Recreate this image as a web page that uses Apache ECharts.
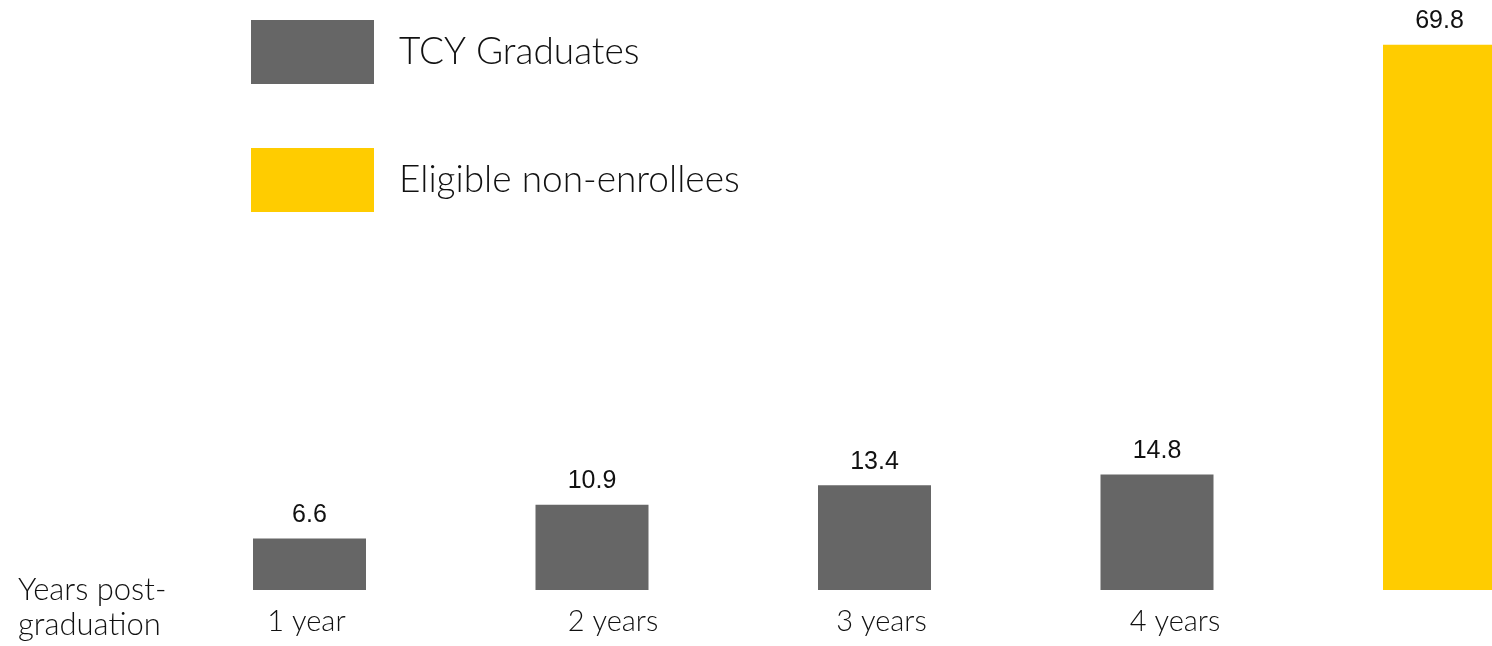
<!DOCTYPE html>
<html>
<head>
<meta charset="utf-8">
<script src="https://cdn.jsdelivr.net/npm/echarts@6/dist/echarts.min.js"></script>
<style>
html,body{margin:0;padding:0;background:#fff;}
#chart{width:1492px;height:646px;}
</style>
</head>
<body>
<div id="chart"></div>
<script>
const categories = ['1 year', '2 years', '3 years', '4 years', ''];
const seriesNames = ['TCY Graduates', 'Eligible non-enrollees'];
const tcyValues = [6.6, 10.9, 13.4, 14.8, '-'];
const eligibleValues = ['-', '-', '-', '-', 69.8];
const labelShifts = [-3, 21, 7, 18, 0];
const axisTitle = 'Years post-\ngraduation';

const FONT = 'Lato, "Open Sans", "Noto Sans", sans-serif';
const chart = echarts.init(document.getElementById('chart'));

const catData = categories.map((c, i) => {
  const s = labelShifts[i];
  return {
    value: c,
    textStyle: { padding: s >= 0 ? [0, 0, 0, 2 * s] : [0, -2 * s, 0, 0] }
  };
});

chart.setOption({
  animation: false,
  backgroundColor: '#ffffff',
  legend: {
    orient: 'vertical',
    left: 246,
    top: 15,
    itemWidth: 123,
    itemHeight: 64,
    itemGap: 64,
    icon: 'rect',
    data: seriesNames,
    textStyle: { fontFamily: FONT, fontSize: 37, fontWeight: 300, color: '#111', padding: [0, 0, 0, 20] }
  },
  grid: { left: 168.25, right: -88.75, top: 43.3, bottom: 56, outerBoundsMode: 'none', containLabel: false },
  xAxis: {
    type: 'category',
    data: catData,
    axisLine: { show: false },
    axisTick: { show: false },
    axisLabel: { margin: 17, fontFamily: FONT, fontSize: 29, fontWeight: 300, color: '#111', interval: 0 }
  },
  yAxis: {
    type: 'value',
    min: 0,
    max: 70,
    show: false,
    splitLine: { show: false }
  },
  graphic: [{
    type: 'text',
    left: 18,
    top: 572,
    style: { text: axisTitle, font: '300 31px ' + FONT, fill: '#111', lineHeight: 35 }
  }],
  series: [
    {
      name: seriesNames[0],
      type: 'bar',
      stack: 'all',
      data: tcyValues,
      barWidth: 113,
      itemStyle: { color: '#666666' },
      label: { show: true, position: 'top', distance: 11, fontFamily: 'Liberation Sans, Arial, sans-serif', fontSize: 25, color: '#111' }
    },
    {
      name: seriesNames[1],
      type: 'bar',
      stack: 'all',
      data: eligibleValues,
      barWidth: 113,
      itemStyle: { color: '#FFCC00' },
      label: { show: true, position: 'top', distance: 11, fontFamily: 'Liberation Sans, Arial, sans-serif', fontSize: 25, color: '#111' }
    }
  ]
});
</script>
</body>
</html>
